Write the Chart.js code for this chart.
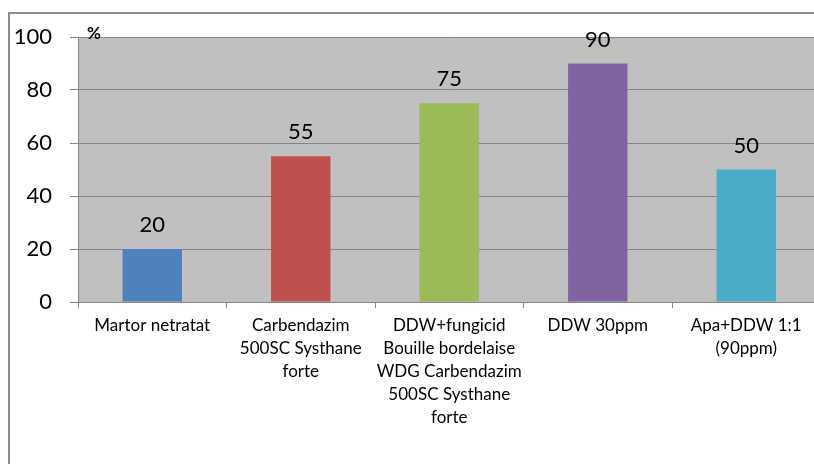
<!DOCTYPE html>
<html>
<head>
<meta charset="utf-8">
<script src="https://cdn.jsdelivr.net/npm/chart.js@4"></script>
<style>
  html, body { margin: 0; padding: 0; background: #fff; overflow: hidden; }
  #page { position: relative; width: 814px; height: 464px; overflow: hidden; }
  canvas { display: block; }
</style>
</head>
<body>
<div id="page"><canvas id="barChart" width="830" height="464"></canvas></div>
<script>
// categories (already wrapped into lines) and values in %
const categories = [
  ["Martor netratat"],
  ["Carbendazim", "500SC Systhane", "forte"],
  ["DDW+fungicid", "Bouille bordelaise", "WDG Carbendazim", "500SC Systhane", "forte"],
  ["DDW 30ppm"],
  ["Apa+DDW 1:1", "(90ppm)"],
];
const values = [20, 55, 75, 90, 50];
const barColors = ["#4F81BD", "#C0504D", "#9BBB59", "#8064A2", "#4BACC6"];
const yTicks = [0, 20, 40, 60, 80, 100];

const FONT = "Lato, 'Open Sans', sans-serif";
const GRID = "#868686";

// outer frame, gray plot background, value labels and the "%" unit
const plotDecor = {
  id: "plotDecor",
  beforeDraw(chart) {
    const { ctx, chartArea: a, width, height } = chart;
    ctx.save();
    ctx.strokeStyle = "#8c8c8c";
    ctx.lineWidth = 2;
    ctx.beginPath();
    ctx.moveTo(9, height);
    ctx.lineTo(9, 13);
    ctx.lineTo(width, 13);
    ctx.stroke();
    ctx.fillStyle = "#C0C0C0";
    ctx.fillRect(a.left, a.top, a.right - a.left, a.bottom - a.top);
    ctx.restore();
  },
  afterDatasetsDraw(chart) {
    const { ctx, chartArea: a } = chart;
    const meta = chart.getDatasetMeta(0);
    ctx.save();
    ctx.fillStyle = "#000";
    ctx.textAlign = "center";
    ctx.textBaseline = "alphabetic";
    ctx.font = "22px " + FONT;
    meta.data.forEach((bar, i) => {
      ctx.fillText(String(values[i]), bar.x, bar.y - 17);
    });
    ctx.font = "bold 17px " + FONT;
    ctx.textAlign = "left";
    ctx.fillText("%", a.left + 9, a.top + 2);
    ctx.restore();
  },
};

new Chart(document.getElementById("barChart").getContext("2d"), {
  type: "bar",
  data: {
    labels: categories,
    datasets: [
      {
        data: values,
        backgroundColor: barColors,
        borderWidth: 0,
        barPercentage: 0.4,
        categoryPercentage: 1.0,
      },
    ],
  },
  options: {
    responsive: false,
    animation: false,
    // canvas is wider than the page so the plot runs past the right edge
    layout: { padding: { top: 37, right: 9.5, left: 0, bottom: 0 } },
    plugins: {
      legend: { display: false },
      tooltip: { enabled: false },
    },
    scales: {
      x: {
        offset: true,
        grid: {
          display: true,
          drawOnChartArea: false,
          offset: true,
          color: GRID,
          tickLength: 6,
        },
        border: { color: GRID, width: 1 },
        ticks: {
          color: "#000",
          maxRotation: 0,
          autoSkip: false,
          padding: 6,
          font: { family: FONT, size: 17, lineHeight: "23px" },
        },
        afterFit(scale) { scale.height = 162; },
      },
      y: {
        min: 0,
        max: 100,
        afterBuildTicks(scale) { scale.ticks = yTicks.map(v => ({ value: v })); },
        grid: { color: GRID, lineWidth: 1, tickLength: 8 },
        border: { color: GRID, width: 1 },
        ticks: {
          color: "#000",
          padding: 18,
          font: { family: FONT, size: 22 },
        },
        afterFit(scale) { scale.width = 78; },
      },
    },
  },
  plugins: [plotDecor],
});
</script>
</body>
</html>
